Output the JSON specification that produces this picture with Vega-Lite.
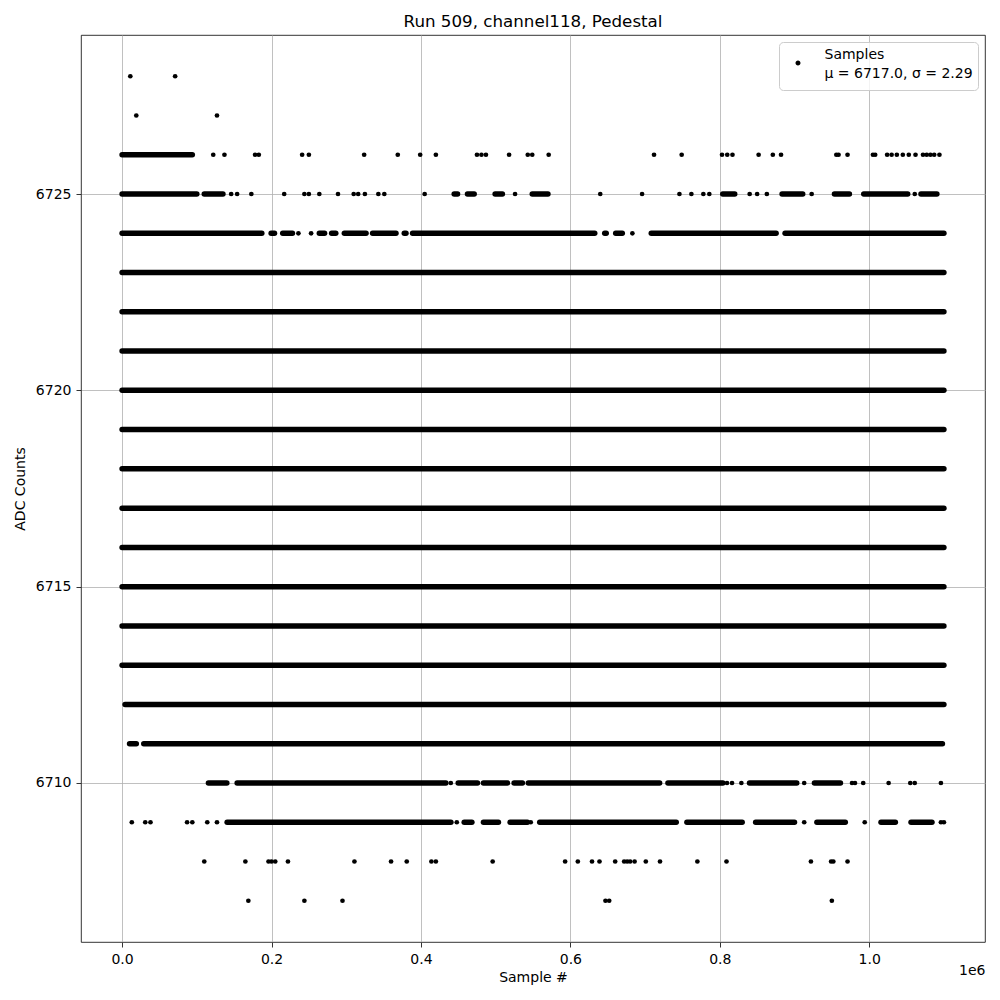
{
  "$schema": "https://vega.github.io/schema/vega-lite/v6.json",
  "autosize": "none",
  "padding": {"left": 81, "top": 35, "right": 15, "bottom": 58},
  "width": 904,
  "height": 907,
  "title": {"text": "Run 509, channel118, Pedestal", "fontSize": 16.7, "fontWeight": "normal", "font": "DejaVu Sans", "offset": 4, "anchor": "middle", "color": "black"},
  "config": {
    "font": "DejaVu Sans",
    "view": {"stroke": "black", "strokeWidth": 0.8},
    "axis": {
      "labelFont": "DejaVu Sans", "titleFont": "DejaVu Sans",
      "labelFontSize": 14, "titleFontSize": 14, "titleFontWeight": "normal",
      "labelColor": "black", "titleColor": "black",
      "tickColor": "black", "tickWidth": 0.8, "tickSize": 5, "labelPadding": 5,
      "domain": false,
      "gridColor": "#b0b0b0", "gridWidth": 0.8, "gridOpacity": 1
    },
    "legend": {
      "orient": "top-right", "offset": 7, "fillColor": "rgba(255,255,255,0.8)", "strokeColor": "#cccccc",
      "cornerRadius": 4, "padding": 5, "labelFont": "DejaVu Sans", "labelFontSize": 14, "labelColor": "black",
      "symbolSize": 225, "symbolOffset": 6.5, "labelOffset": 19, "labelLimit": 400, "rowPadding": -2,
      "symbolType": "M -0.333,1.133 A 0.333,0.333 0 1,0 0.333,1.133 A 0.333,0.333 0 1,0 -0.333,1.133 Z",
      "symbolStrokeWidth": 0
    }
  },
  "datasets": {
    "segments": [
      {"y": 6726, "x": 0, "x2": 94000},
      {"y": 6725, "x": 0, "x2": 100000},
      {"y": 6725, "x": 110000, "x2": 135000},
      {"y": 6725, "x": 444500, "x2": 449000},
      {"y": 6725, "x": 462300, "x2": 471300},
      {"y": 6725, "x": 499300, "x2": 509000},
      {"y": 6725, "x": 549000, "x2": 570000},
      {"y": 6725, "x": 804000, "x2": 820000},
      {"y": 6725, "x": 883400, "x2": 911000},
      {"y": 6725, "x": 953500, "x2": 973500},
      {"y": 6725, "x": 992700, "x2": 1051500},
      {"y": 6725, "x": 1069300, "x2": 1090600},
      {"y": 6724, "x": 0, "x2": 187000},
      {"y": 6724, "x": 199500, "x2": 204000},
      {"y": 6724, "x": 215000, "x2": 228000},
      {"y": 6724, "x": 264000, "x2": 271000},
      {"y": 6724, "x": 280500, "x2": 286000},
      {"y": 6724, "x": 297500, "x2": 326500},
      {"y": 6724, "x": 335300, "x2": 366600},
      {"y": 6724, "x": 377700, "x2": 380000},
      {"y": 6724, "x": 388800, "x2": 632600},
      {"y": 6724, "x": 646000, "x2": 648000},
      {"y": 6724, "x": 660700, "x2": 669500},
      {"y": 6724, "x": 708300, "x2": 875400},
      {"y": 6724, "x": 887400, "x2": 1100000},
      {"y": 6723, "x": 0, "x2": 1100000},
      {"y": 6722, "x": 0, "x2": 1100000},
      {"y": 6721, "x": 0, "x2": 1100000},
      {"y": 6720, "x": 0, "x2": 1100000},
      {"y": 6719, "x": 0, "x2": 1100000},
      {"y": 6718, "x": 0, "x2": 1100000},
      {"y": 6717, "x": 0, "x2": 1100000},
      {"y": 6716, "x": 0, "x2": 1100000},
      {"y": 6715, "x": 0, "x2": 1100000},
      {"y": 6714, "x": 0, "x2": 1100000},
      {"y": 6713, "x": 0, "x2": 1100000},
      {"y": 6712, "x": 4000, "x2": 1100000},
      {"y": 6711, "x": 10000, "x2": 19000},
      {"y": 6711, "x": 29000, "x2": 1098000},
      {"y": 6710, "x": 115600, "x2": 140200},
      {"y": 6710, "x": 154000, "x2": 433400},
      {"y": 6710, "x": 449900, "x2": 475700},
      {"y": 6710, "x": 483700, "x2": 515800},
      {"y": 6710, "x": 524700, "x2": 535800},
      {"y": 6710, "x": 543700, "x2": 719500},
      {"y": 6710, "x": 730600, "x2": 804100},
      {"y": 6710, "x": 839800, "x2": 903000},
      {"y": 6710, "x": 926700, "x2": 961500},
      {"y": 6709, "x": 140600, "x2": 440100},
      {"y": 6709, "x": 457900, "x2": 468200},
      {"y": 6709, "x": 483700, "x2": 503700},
      {"y": 6709, "x": 519400, "x2": 542500},
      {"y": 6709, "x": 559000, "x2": 741700},
      {"y": 6709, "x": 756000, "x2": 830000},
      {"y": 6709, "x": 848000, "x2": 900000},
      {"y": 6709, "x": 930000, "x2": 968000},
      {"y": 6709, "x": 1015800, "x2": 1035000},
      {"y": 6709, "x": 1056000, "x2": 1084000}
    ],
    "points": [
      {"y": 6728, "x": 11000}, {"y": 6728, "x": 71000},
      {"y": 6727, "x": 19000}, {"y": 6727, "x": 127000},
      {"y": 6726, "x": 122000}, {"y": 6726, "x": 137000}, {"y": 6726, "x": 178000}, {"y": 6726, "x": 183000},
      {"y": 6726, "x": 241000}, {"y": 6726, "x": 250000}, {"y": 6726, "x": 324000}, {"y": 6726, "x": 369000},
      {"y": 6726, "x": 399000}, {"y": 6726, "x": 420000}, {"y": 6726, "x": 475000}, {"y": 6726, "x": 481000},
      {"y": 6726, "x": 487000}, {"y": 6726, "x": 518000}, {"y": 6726, "x": 543000}, {"y": 6726, "x": 549000},
      {"y": 6726, "x": 571000}, {"y": 6726, "x": 712000}, {"y": 6726, "x": 749000}, {"y": 6726, "x": 803000},
      {"y": 6726, "x": 810000}, {"y": 6726, "x": 817000}, {"y": 6726, "x": 852000}, {"y": 6726, "x": 871000},
      {"y": 6726, "x": 882000}, {"y": 6726, "x": 956000}, {"y": 6726, "x": 959000}, {"y": 6726, "x": 971000},
      {"y": 6726, "x": 1005000}, {"y": 6726, "x": 1008000}, {"y": 6726, "x": 1024000}, {"y": 6726, "x": 1030000},
      {"y": 6726, "x": 1037000}, {"y": 6726, "x": 1045000}, {"y": 6726, "x": 1053000}, {"y": 6726, "x": 1062000},
      {"y": 6726, "x": 1072000}, {"y": 6726, "x": 1077000}, {"y": 6726, "x": 1082000}, {"y": 6726, "x": 1087000},
      {"y": 6726, "x": 1094000},
      {"y": 6725, "x": 146000}, {"y": 6725, "x": 154000}, {"y": 6725, "x": 173000}, {"y": 6725, "x": 217000},
      {"y": 6725, "x": 244000}, {"y": 6725, "x": 250000}, {"y": 6725, "x": 264000}, {"y": 6725, "x": 289000},
      {"y": 6725, "x": 310000}, {"y": 6725, "x": 316000}, {"y": 6725, "x": 325000}, {"y": 6725, "x": 343000},
      {"y": 6725, "x": 351000}, {"y": 6725, "x": 405000}, {"y": 6725, "x": 526000}, {"y": 6725, "x": 640000},
      {"y": 6725, "x": 696000}, {"y": 6725, "x": 746000}, {"y": 6725, "x": 762000}, {"y": 6725, "x": 778000},
      {"y": 6725, "x": 786000}, {"y": 6725, "x": 840000}, {"y": 6725, "x": 850000}, {"y": 6725, "x": 863000},
      {"y": 6725, "x": 923000}, {"y": 6725, "x": 1061000},
      {"y": 6724, "x": 236000}, {"y": 6724, "x": 253000}, {"y": 6724, "x": 683000},
      {"y": 6710, "x": 440000}, {"y": 6710, "x": 809700}, {"y": 6710, "x": 816400}, {"y": 6710, "x": 828900},
      {"y": 6710, "x": 913000}, {"y": 6710, "x": 977000}, {"y": 6710, "x": 981000}, {"y": 6710, "x": 992000},
      {"y": 6710, "x": 1026000}, {"y": 6710, "x": 1055000}, {"y": 6710, "x": 1061000}, {"y": 6710, "x": 1096000},
      {"y": 6709, "x": 13000}, {"y": 6709, "x": 31000}, {"y": 6709, "x": 38000}, {"y": 6709, "x": 87000},
      {"y": 6709, "x": 94000}, {"y": 6709, "x": 114000}, {"y": 6709, "x": 127000}, {"y": 6709, "x": 448000},
      {"y": 6709, "x": 547000}, {"y": 6709, "x": 913000}, {"y": 6709, "x": 994000}, {"y": 6709, "x": 1096000},
      {"y": 6709, "x": 1100000},
      {"y": 6708, "x": 110000}, {"y": 6708, "x": 165000}, {"y": 6708, "x": 196000}, {"y": 6708, "x": 200000},
      {"y": 6708, "x": 205000}, {"y": 6708, "x": 222000}, {"y": 6708, "x": 311000}, {"y": 6708, "x": 360000},
      {"y": 6708, "x": 381000}, {"y": 6708, "x": 414000}, {"y": 6708, "x": 420000}, {"y": 6708, "x": 496000},
      {"y": 6708, "x": 593000}, {"y": 6708, "x": 610000}, {"y": 6708, "x": 629000}, {"y": 6708, "x": 639000},
      {"y": 6708, "x": 660000}, {"y": 6708, "x": 672000}, {"y": 6708, "x": 676000}, {"y": 6708, "x": 680000},
      {"y": 6708, "x": 686000}, {"y": 6708, "x": 701000}, {"y": 6708, "x": 720000}, {"y": 6708, "x": 770000},
      {"y": 6708, "x": 809000}, {"y": 6708, "x": 922000}, {"y": 6708, "x": 949000}, {"y": 6708, "x": 952000},
      {"y": 6708, "x": 971000},
      {"y": 6707, "x": 169000}, {"y": 6707, "x": 244000}, {"y": 6707, "x": 295000}, {"y": 6707, "x": 647000},
      {"y": 6707, "x": 652000}, {"y": 6707, "x": 950000}
    ]
  },
  "resolve": {"axis": {"x": "independent"}},
  "layer": [
    {
      "data": {"name": "segments"},
      "mark": {"type": "rule", "strokeWidth": 5.5, "strokeCap": "round", "color": "black"},
      "encoding": {
        "x": {
          "field": "x", "type": "quantitative",
          "scale": {"domain": [-55000, 1155000], "nice": false, "zero": false},
          "axis": {"title": "Sample #", "values": [0, 200000, 400000, 600000, 800000, 1000000], "labelExpr": "format(datum.value / 1000000, '.1f')", "titlePadding": 4}
        },
        "x2": {"field": "x2"},
        "y": {
          "field": "y", "type": "quantitative",
          "scale": {"domain": [6705.95, 6729.05], "nice": false, "zero": false},
          "axis": {"title": "ADC Counts", "values": [6710, 6715, 6720, 6725], "format": "d", "titlePadding": 8}
        }
      }
    },
    {
      "data": {"name": "points"},
      "mark": {"type": "circle", "size": 22, "opacity": 1},
      "encoding": {
        "x": {
          "field": "x", "type": "quantitative",
          "axis": {"title": "1e6", "orient": "bottom", "labels": false, "ticks": false, "domain": false, "grid": false, "titleX": 904, "titleY": 28, "titleAlign": "right", "titleBaseline": "middle", "titleAnchor": null}
        },
        "y": {"field": "y", "type": "quantitative"},
        "color": {
          "datum": "Samples",
          "type": "nominal",
          "scale": {"domain": ["Samples", "μ = 6717.0, σ = 2.29"], "range": ["black", "rgba(0,0,0,0)"]},
          "legend": {"title": null}
        }
      }
    }
  ]
}
